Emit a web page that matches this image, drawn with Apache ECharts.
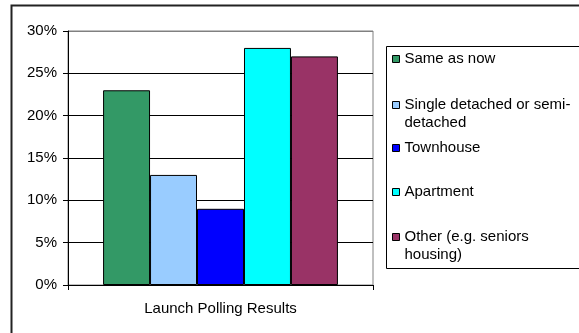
<!DOCTYPE html>
<html>
<head>
<meta charset="utf-8">
<script src="https://cdn.jsdelivr.net/npm/echarts@6/dist/echarts.min.js"></script>
<style>
  html, body { margin: 0; padding: 0; background: #fff; }
  #chart { width: 579px; height: 333px; }
</style>
</head>
<body>
<div id="chart"></div>
<script>
// Survey categories and their share of responses (%)
var categories = ['Launch Polling Results'];
var seriesNames = [
  'Same as now',
  'Single detached or semi-detached',
  'Townhouse',
  'Apartment',
  'Other (e.g. seniors housing)'
];
var legendLabels = [
  'Same as now',
  'Single detached or semi-\ndetached',
  'Townhouse',
  'Apartment',
  'Other (e.g. seniors\nhousing)'
];
var values = [23, 13, 9, 28, 27];
var colors = ['#339966', '#99CCFF', '#0000FF', '#00FFFF', '#993366'];
var yTicks = [0, 5, 10, 15, 20, 25, 30];

var FONT = 'Liberation Sans, Arial, sans-serif';
var FS = 15;
var LINE = 18;

var chart = echarts.init(document.getElementById('chart'), null, { renderer: 'canvas' });

var series = seriesNames.map(function (name, i) {
  return {
    name: name,
    type: 'bar',
    data: [values[i]],
    barGap: '0%',
    barCategoryGap: '23%',
    itemStyle: { color: colors[i], borderColor: '#000', borderWidth: 1 },
    emphasis: { disabled: true }
  };
});

// One legend block per entry so each sits at its own row. Two-line
// entries get an empty leading line so the swatch, which is centred on
// the text block, lines up with the first printed line.
var legendRowCenters = [59, 105, 148, 192, 237];
var legends = seriesNames.map(function (name, i) {
  var multi = legendLabels[i].indexOf('\n') >= 0;
  var label = multi ? '\n' + legendLabels[i] : legendLabels[i];
  var top = legendRowCenters[i] - (multi ? LINE * 1.5 : LINE / 2);
  return {
    orient: 'vertical',
    left: 392,
    top: top,
    padding: 0,
    itemWidth: 7,
    itemHeight: 7,
    icon: 'rect',
    selectedMode: false,
    data: [name],
    formatter: function () { return label; },
    itemStyle: { borderColor: '#000', borderWidth: 1 },
    textStyle: {
      fontFamily: FONT,
      fontSize: FS,
      color: '#000',
      lineHeight: LINE
    }
  };
});

var splitColors = yTicks.map(function (t, i) {
  return i === yTicks.length - 1 ? '#808080' : '#000';
});

chart.setOption({
  animation: false,
  backgroundColor: '#fff',
  graphic: [
    {
      type: 'rect',
      shape: { x: 11.5, y: 5.5, width: 700, height: 500 },
      style: { fill: 'none', stroke: '#222', lineWidth: 2 },
      z: 100
    },
    {
      type: 'rect',
      shape: { x: 386.5, y: 46.5, width: 300, height: 222 },
      style: { fill: '#fff', stroke: '#000', lineWidth: 1 },
      z: 0
    }
  ],
  grid: {
    left: 68,
    top: 31,
    right: 206,
    bottom: 48,
    show: true,
    borderColor: '#808080',
    borderWidth: 1,
    backgroundColor: '#fff'
  },
  legend: legends,
  xAxis: {
    type: 'category',
    data: categories,
    axisLine: { lineStyle: { color: '#000', width: 1 } },
    axisTick: { show: true, length: 5, lineStyle: { color: '#000' } },
    axisLabel: { fontFamily: FONT, fontSize: FS, color: '#000', margin: 16 }
  },
  yAxis: {
    type: 'value',
    min: 0,
    max: 30,
    interval: 5,
    axisLine: { show: true, lineStyle: { color: '#000', width: 1 } },
    axisTick: { show: true, length: 5, lineStyle: { color: '#000' } },
    axisLabel: {
      fontFamily: FONT,
      fontSize: FS,
      color: '#000',
      margin: 11,
      formatter: '{value}%'
    },
    splitLine: { show: true, lineStyle: { color: splitColors, width: 1 } }
  },
  series: series
});
</script>
</body>
</html>
